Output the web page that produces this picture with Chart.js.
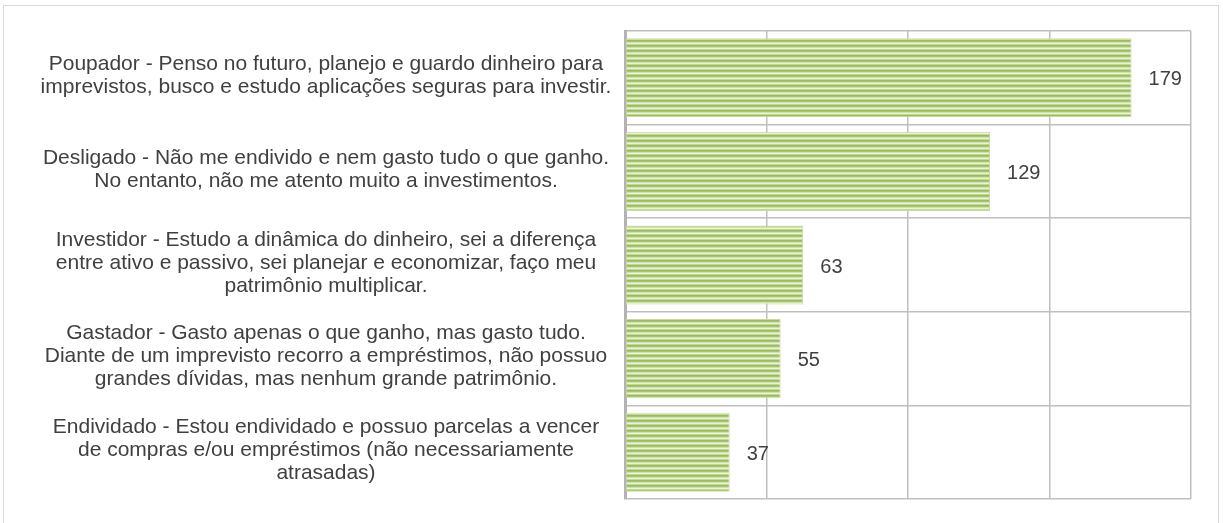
<!DOCTYPE html>
<html>
<head>
<meta charset="utf-8">
<script src="https://cdn.jsdelivr.net/npm/chart.js@4.4.1/dist/chart.umd.min.js"></script>
<style>
  html, body { margin: 0; padding: 0; background: #ffffff; }
  #wrap { position: relative; width: 1223px; height: 523px; overflow: hidden; }
  #frame { position: absolute; left: 3px; top: 5px; width: 1214px; height: 560px; border: 1px solid #d9d9d9; pointer-events: none; }
  canvas { position: absolute; left: 0; top: 0; }
</style>
</head>
<body>
<div id="wrap">
  <canvas id="c" width="1223" height="523"></canvas>
  <div id="frame"></div>
</div>
<script>
const categories = [
  ["Poupador - Penso no futuro, planejo e guardo dinheiro para", "imprevistos, busco e estudo aplicações seguras para investir."],
  ["Desligado - Não me endivido e nem gasto tudo o que ganho.", "No entanto, não me atento muito a investimentos."],
  ["Investidor - Estudo a dinâmica do dinheiro, sei a diferença", "entre ativo e passivo, sei planejar e economizar, faço meu", "patrimônio multiplicar."],
  ["Gastador - Gasto apenas o que ganho, mas gasto tudo.", "Diante de um imprevisto recorro a empréstimos, não possuo", "grandes dívidas, mas nenhum grande patrimônio."],
  ["Endividado - Estou endividado e possuo parcelas a vencer", "de compras e/ou empréstimos (não necessariamente", "atrasadas)"]
];
const values = [179, 129, 63, 55, 37];
const axisMin = 0;
const axisMax = 200;
const axisStep = 50;

const FONT = "'Liberation Sans', Arial, sans-serif";
const TEXT_COLOR = '#404040';

function makeStripePattern() {
  const p = document.createElement('canvas');
  p.width = 4; p.height = 5;
  const g = p.getContext('2d');
  const rows = ['#9bbb59', '#a9c66f', '#cfe1ae', '#eaf2dc', '#c2d898'];
  rows.forEach((c, i) => { g.fillStyle = c; g.fillRect(0, i, 4, 1); });
  return g.createPattern(p, 'repeat');
}
const ctx = document.getElementById('c').getContext('2d');
const stripe = makeStripePattern();

const categoryLabelPlugin = {
  id: 'categoryLabels',
  afterDraw(chart) {
    const y = chart.scales.y;
    const c = chart.ctx;
    const lineH = 23;
    c.save();
    c.font = '21px ' + FONT;
    c.fillStyle = TEXT_COLOR;
    c.textAlign = 'center';
    c.textBaseline = 'middle';
    categories.forEach((lines, i) => {
      const cy = y.getPixelForValue(i) - 2;
      const startY = cy - (lines.length - 1) * lineH / 2;
      lines.forEach((ln, j) => c.fillText(ln, 326, startY + j * lineH));
    });
    c.restore();
  }
};

const valueLabelPlugin = {
  id: 'valueLabels',
  afterDatasetsDraw(chart) {
    const meta = chart.getDatasetMeta(0);
    const c = chart.ctx;
    c.save();
    c.font = '20px ' + FONT;
    c.fillStyle = TEXT_COLOR;
    c.textAlign = 'left';
    c.textBaseline = 'middle';
    meta.data.forEach((bar, i) => {
      c.fillText(String(values[i]), bar.x + 17, bar.y + 2);
    });
    c.restore();
  }
};

new Chart(ctx, {
  type: 'bar',
  data: {
    labels: categories,
    datasets: [{
      data: values,
      backgroundColor: stripe,
      borderColor: '#c6da9f',
      borderWidth: 1,
      borderSkipped: false,
      categoryPercentage: 0.845,
      barPercentage: 1.0
    }]
  },
  options: {
    indexAxis: 'y',
    responsive: false,
    animation: false,
    devicePixelRatio: 1,
    layout: { padding: { left: 0, top: 31, right: 32, bottom: 24 } },
    plugins: { legend: { display: false }, tooltip: { enabled: false } },
    scales: {
      x: {
        min: axisMin, max: axisMax,
        ticks: { display: false, stepSize: axisStep },
        grid: { color: '#bfbfbf', lineWidth: 1.5, drawTicks: false },
        border: { display: false }
      },
      y: {
        offset: true,
        ticks: { display: false },
        grid: { offset: true, color: '#bfbfbf', lineWidth: 1.5, drawTicks: false },
        border: { display: true, color: '#b3b3b3', width: 3 },
        afterFit(scale) { scale.width = 625; }
      }
    }
  },
  plugins: [categoryLabelPlugin, valueLabelPlugin]
});
</script>
</body>
</html>
